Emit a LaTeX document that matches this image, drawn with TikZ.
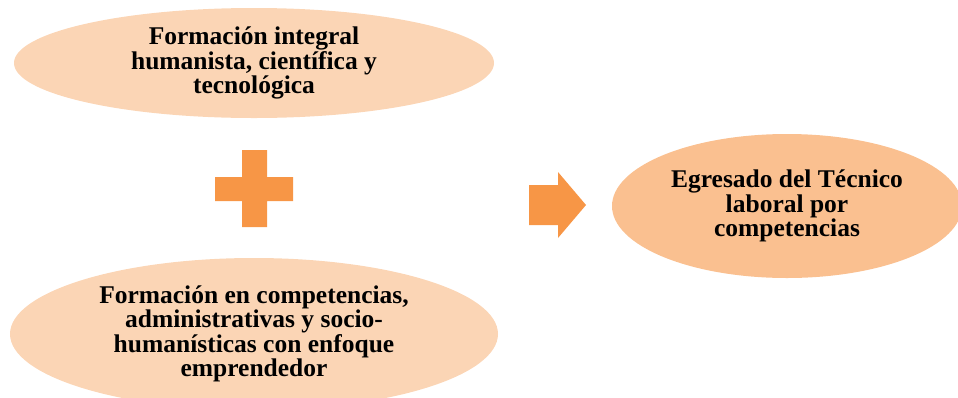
\documentclass[tikz,border=0pt]{standalone}
\usepackage{fontspec}
\setmainfont{Liberation Serif}
\usetikzlibrary{shapes.geometric}
\definecolor{peachlight}{HTML}{FBD5B5}
\definecolor{peach}{HTML}{FAC090}
\definecolor{orangeacc}{HTML}{F79646}
\tikzset{
  blob/.style={ellipse, fill=#1, draw=none, inner sep=0pt, align=center,
    font=\bfseries\fontsize{25.5}{24.5}\selectfont, text=black},
  mark shape/.style={fill=orangeacc, draw=none}
}
\begin{document}
\begin{tikzpicture}[x=1pt,y=-1pt]
\useasboundingbox (0,0) rectangle (958,397);
\node[blob=peachlight, minimum width=480pt, minimum height=110pt] (top) at (254,63)
  {Formación integral\\humanista, científica y\\tecnológica};
\node[blob=peachlight, minimum width=488pt, minimum height=152pt] (bottom) at (254,334)
  {Formación en competencias,\\administrativas y socio-\\humanísticas con enfoque\\emprendedor};
\node[blob=peach, minimum width=350pt, minimum height=144pt] (result) at (787,206)
  {Egresado del Técnico\\laboral por\\competencias};
\fill[mark shape] (242,150) -- (267,150) -- (267,177) -- (293,177) -- (293,201) -- (267,201)
  -- (267,227) -- (242,227) -- (242,201) -- (215,201) -- (215,177) -- (242,177) -- cycle;
\fill[mark shape] (529,185) -- (558,185) -- (558,172) -- (586,205) -- (558,238) -- (558,225)
  -- (529,225) -- cycle;
\end{tikzpicture}
\end{document}
